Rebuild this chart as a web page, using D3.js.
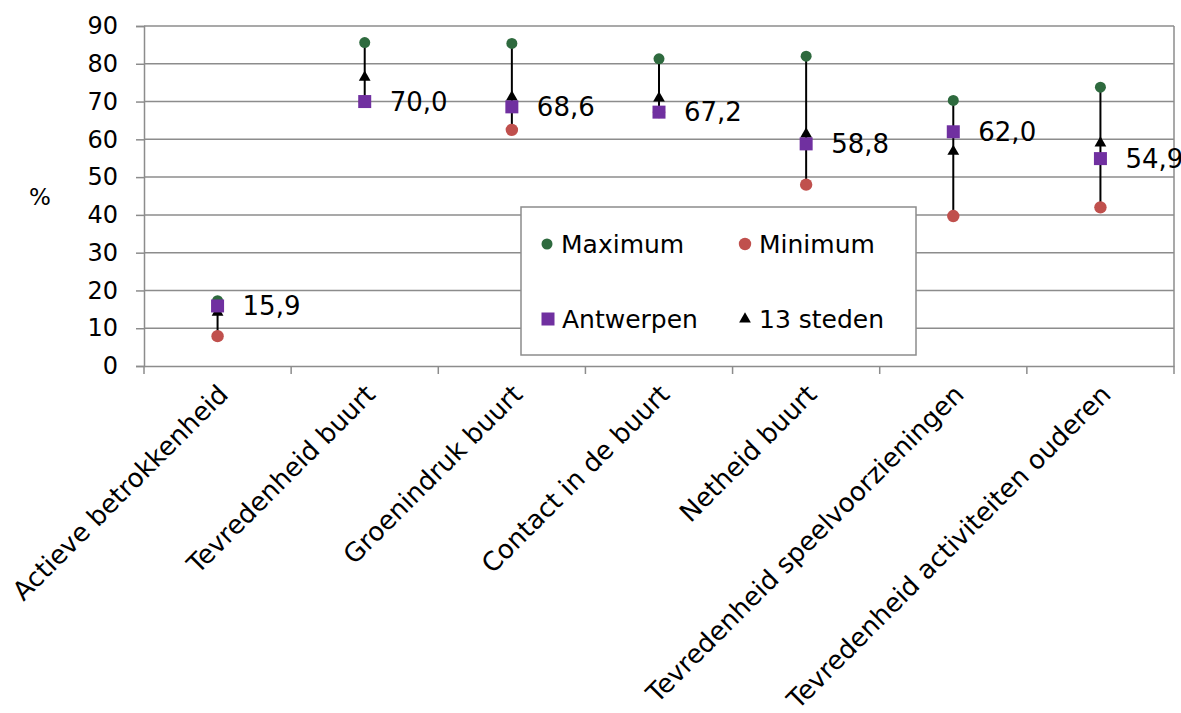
<!DOCTYPE html>
<html><head><meta charset="utf-8">
<script src="https://cdn.jsdelivr.net/npm/d3@7"></script>
<style>body{margin:0;background:#fff}text{font-family:"DejaVu Sans",sans-serif;fill:#000}</style>
</head><body><svg id="c" width="1181" height="713"></svg>
<script>
const categories = ["Actieve betrokkenheid","Tevredenheid buurt","Groenindruk buurt","Contact in de buurt","Netheid buurt","Tevredenheid speelvoorzieningen","Tevredenheid activiteiten ouderen"];
const maximum = [17.3, 85.6, 85.4, 81.3, 82.0, 70.3, 73.8];
const minimum = [7.9, 70.0, 62.5, 67.2, 48.0, 39.7, 42.0];
const antwerpen = [15.9, 70.0, 68.6, 67.2, 58.8, 62.0, 54.9];
const steden13 = [14.2, 76.4, 71.2, 70.9, 61.4, 56.8, 59.0];
const yTicks = [0,10,20,30,40,50,60,70,80,90];

const svg = d3.select("#c");
const L = 144, R = 1174, T = 26, B = 366;
const x = d3.scaleBand().domain(categories).range([L, R]);
const y = d3.scaleLinear().domain([0, 90]).range([B, T]);
const grid = "#8c8c8c";

// gridlines
svg.append("g").selectAll("line").data(yTicks.slice(1)).join("line")
  .attr("x1", L).attr("x2", R).attr("y1", d => y(d)).attr("y2", d => y(d))
  .attr("stroke", grid).attr("stroke-width", 1.5);
svg.append("line").attr("x1", R).attr("x2", R).attr("y1", T).attr("y2", B).attr("stroke", grid).attr("stroke-width", 1.5);

// y axis
const ya = svg.append("g").attr("transform", `translate(${L},0)`)
  .call(d3.axisLeft(y).tickValues(yTicks).tickSize(8).tickPadding(18).tickFormat(d3.format("d")));
ya.select(".domain").attr("stroke", grid).attr("stroke-width", 1.5);
ya.selectAll(".tick line").attr("stroke", grid).attr("stroke-width", 1.5);
ya.selectAll("text").style("font-size", "24px").style("font-family", "DejaVu Sans");

// x axis
const xa = svg.append("g").attr("transform", `translate(0,${B})`)
  .call(d3.axisBottom(x).tickSize(0).tickFormat(""));
xa.select(".domain").attr("stroke", grid).attr("stroke-width", 1.5);
const xb = categories.map(c => x(c)).concat([R]);
svg.append("g").selectAll("line").data(xb).join("line")
  .attr("x1", d => d).attr("x2", d => d).attr("y1", B).attr("y2", B + 8)
  .attr("stroke", grid).attr("stroke-width", 1.5);

// x labels
svg.append("g").selectAll("text").data(categories).join("text")
  .attr("transform", d => `translate(${x(d) + x.bandwidth()/2 + 12},${B + 30}) rotate(-45)`)
  .attr("text-anchor", "end").style("font-size", "26px").text(d => d);

// % label
svg.append("text").attr("x", 40).attr("y", 205).attr("text-anchor", "middle").style("font-size", "23px").text("%");

const cx = i => x(categories[i]) + x.bandwidth()/2;
const idx = d3.range(categories.length);

// range lines
svg.append("g").selectAll("line").data(idx).join("line")
  .attr("x1", cx).attr("x2", cx).attr("y1", i => y(minimum[i])).attr("y2", i => y(maximum[i]))
  .attr("stroke", "#000").attr("stroke-width", 2);

// markers
svg.append("g").selectAll("circle").data(idx).join("circle")
  .attr("cx", cx).attr("cy", i => y(maximum[i])).attr("r", 5.5).attr("fill", "#2E6A3E");
svg.append("g").selectAll("circle").data(idx).join("circle")
  .attr("cx", cx).attr("cy", i => y(minimum[i])).attr("r", 6.2).attr("fill", "#C0504D");
const tri = d3.symbol().type(d3.symbolTriangle).size(60);
svg.append("g").selectAll("path").data(idx).join("path")
  .attr("d", tri).attr("transform", i => `translate(${cx(i)},${y(steden13[i])})`).attr("fill", "#000");
svg.append("g").selectAll("rect").data(idx).join("rect")
  .attr("x", i => cx(i) - 6.5).attr("y", i => y(antwerpen[i]) - 6.5).attr("width", 13).attr("height", 13).attr("fill", "#7030A0");

// value labels
svg.append("g").selectAll("text").data(idx).join("text")
  .attr("x", i => cx(i) + 25).attr("y", i => y(antwerpen[i]) + 9)
  .style("font-size", "26px").text(i => d3.format(".1f")(antwerpen[i]).replace(".", ","));

// legend
const lg = svg.append("g");
lg.append("rect").attr("x", 521).attr("y", 207).attr("width", 395).attr("height", 148)
  .attr("fill", "#fff").attr("stroke", grid).attr("stroke-width", 1.5);
const items = [
  {name:"Maximum", t:"max", lx:547, ly:244},
  {name:"Minimum", t:"min", lx:745, ly:244},
  {name:"Antwerpen", t:"ant", lx:548, ly:319},
  {name:"13 steden", t:"tri", lx:745, ly:319}
];
items.forEach(d => {
  if (d.t === "max") lg.append("circle").attr("cx", d.lx).attr("cy", d.ly).attr("r", 5.5).attr("fill", "#2E6A3E");
  if (d.t === "min") lg.append("circle").attr("cx", d.lx).attr("cy", d.ly).attr("r", 6.2).attr("fill", "#C0504D");
  if (d.t === "ant") lg.append("rect").attr("x", d.lx - 6.5).attr("y", d.ly - 6.5).attr("width", 13).attr("height", 13).attr("fill", "#7030A0");
  if (d.t === "tri") lg.append("path").attr("d", tri).attr("transform", `translate(${d.lx},${d.ly})`).attr("fill", "#000");
  lg.append("text").attr("x", d.lx + 14).attr("y", d.ly + 9).style("font-size", "25px").text(d.name);
});
</script></body></html>
